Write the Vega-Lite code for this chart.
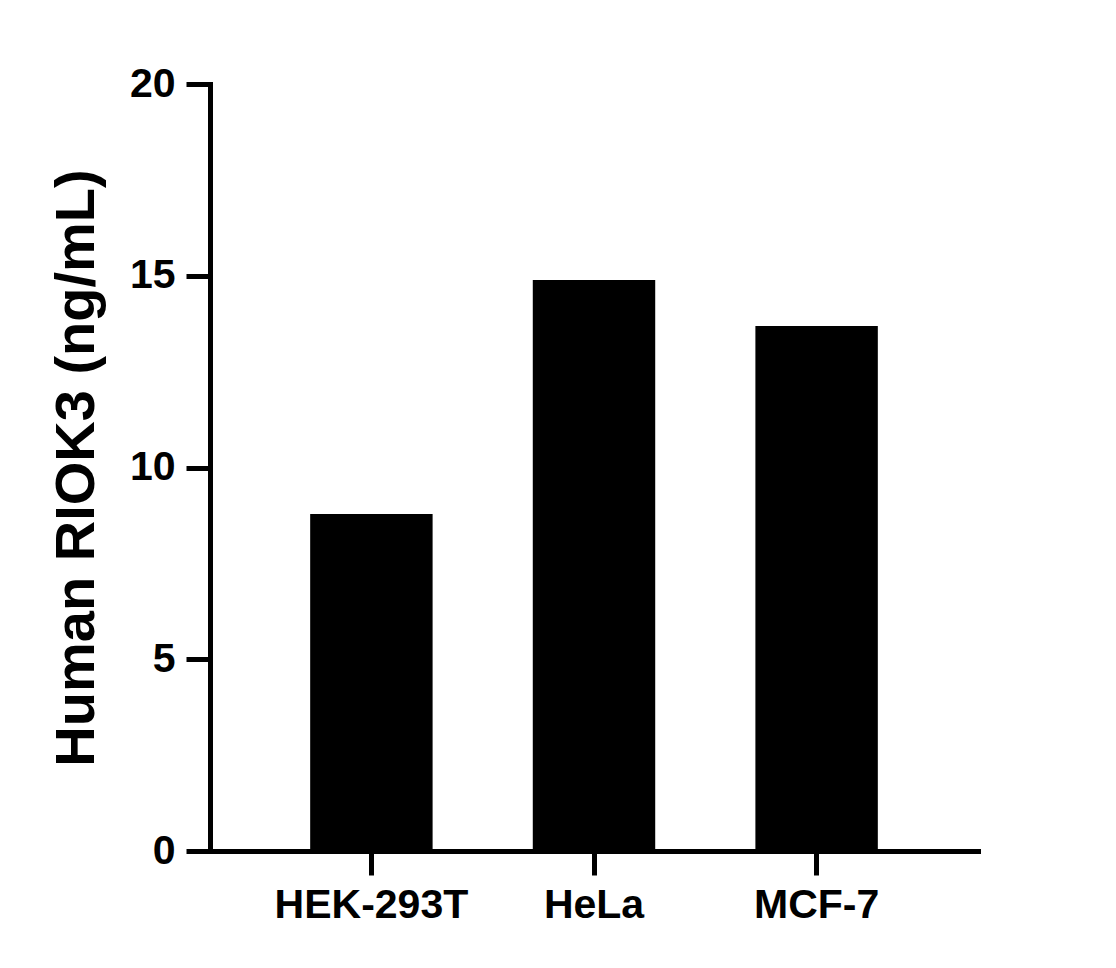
{
  "$schema": "https://vega.github.io/schema/vega-lite/v6.json",
  "autosize": {"type": "none"},
  "padding": {"left": 210, "top": 84, "right": 138, "bottom": 117},
  "width": 768,
  "height": 767,
  "background": "white",
  "data": {
    "values": [
      {"cell": "HEK-293T", "value": 8.79},
      {"cell": "HeLa", "value": 14.89},
      {"cell": "MCF-7", "value": 13.69}
    ]
  },
  "mark": {"type": "bar", "color": "black"},
  "encoding": {
    "x": {
      "field": "cell",
      "type": "nominal",
      "sort": null,
      "scale": {"paddingInner": 0.45, "paddingOuter": 0.45},
      "axis": {
        "title": null,
        "labelAngle": 0,
        "labelLimit": 0,
        "labelFont": "Liberation Sans",
        "labelFontWeight": "bold",
        "labelFontSize": 41,
        "labelColor": "black",
        "labelPadding": 10,
        "tickSize": 24,
        "tickWidth": 5,
        "tickColor": "black",
        "domainWidth": 5,
        "domainColor": "black",
        "domainCap": "square",
        "grid": false
      }
    },
    "y": {
      "field": "value",
      "type": "quantitative",
      "scale": {"domain": [0, 20], "nice": false},
      "axis": {
        "title": "Human RIOK3 (ng/mL)",
        "titleFont": "Liberation Sans",
        "titleFontWeight": "bold",
        "titleFontSize": 56,
        "titleColor": "black",
        "titlePadding": 24,
        "values": [0, 5, 10, 15, 20],
        "labelFont": "Liberation Sans",
        "labelFontWeight": "bold",
        "labelFontSize": 41,
        "labelColor": "black",
        "labelPadding": 11,
        "tickSize": 24,
        "tickWidth": 5,
        "tickColor": "black",
        "domainWidth": 5,
        "domainColor": "black",
        "domainCap": "square",
        "grid": false
      }
    }
  },
  "config": {"view": {"stroke": null}}
}
